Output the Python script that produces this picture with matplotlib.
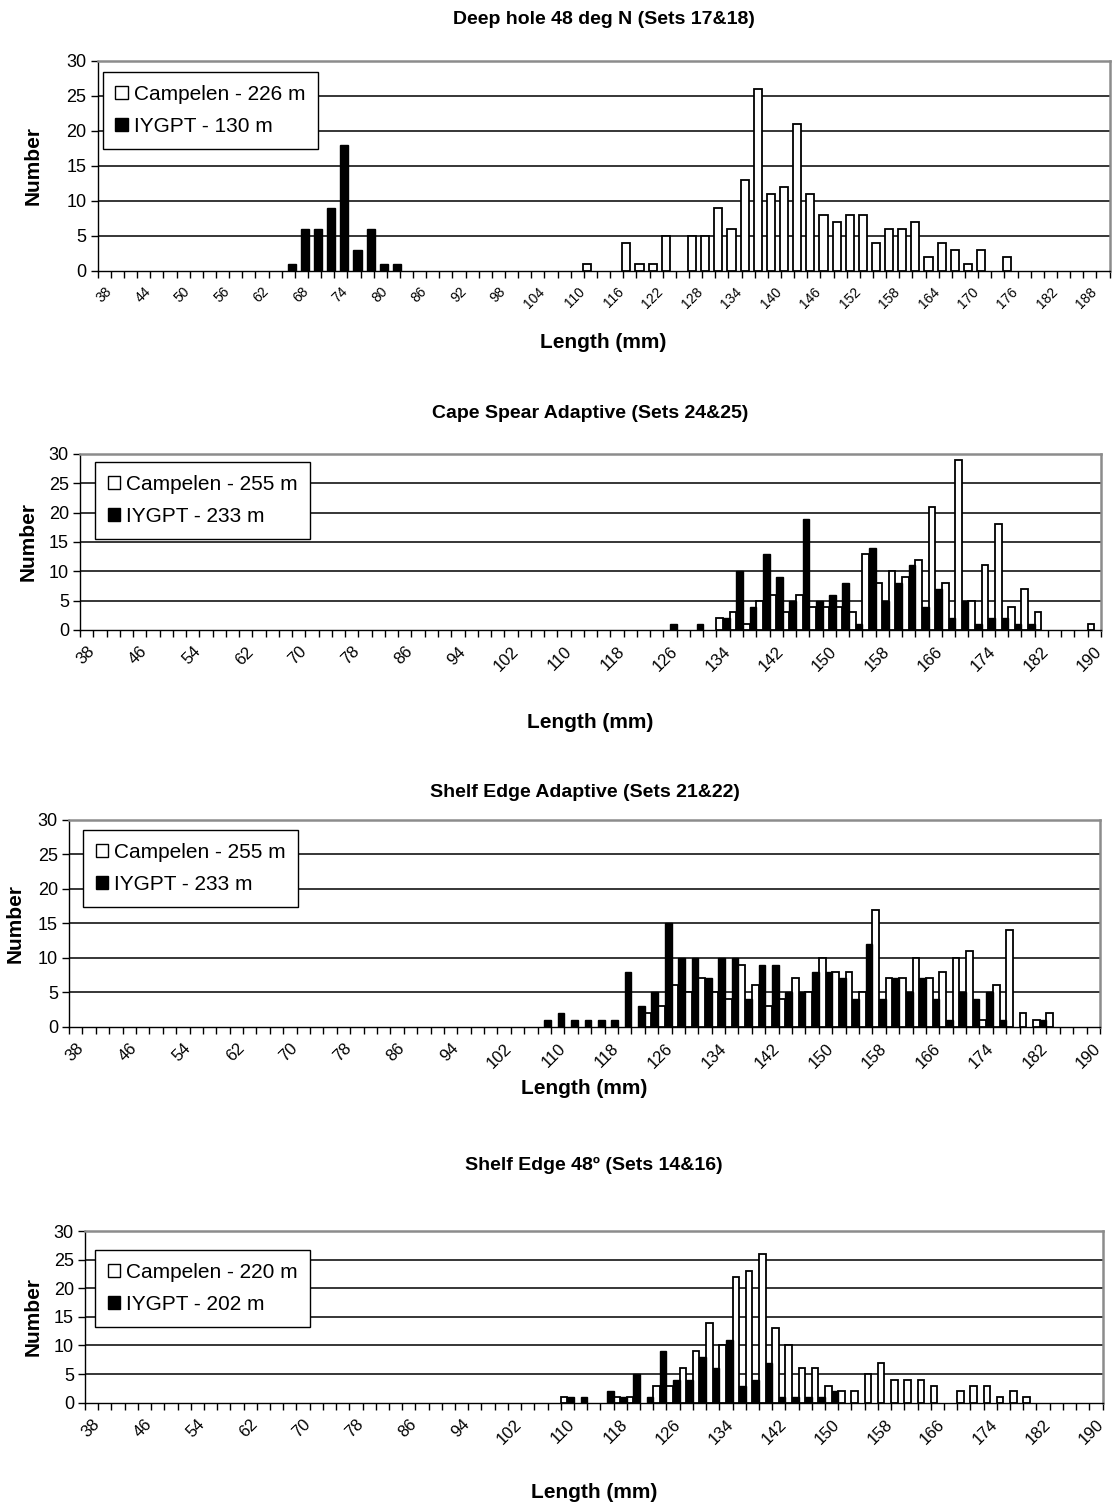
import numpy as np
import matplotlib
matplotlib.use("Agg")
import matplotlib.pyplot as plt
from matplotlib.patches import Patch

plt.rcParams['font.family'] = ['Liberation Sans', 'DejaVu Sans']

# Length classes (mm)
lengths = list(range(38, 191, 2))

# Panel 1: Deep hole 48 deg N
p1_white_start = 112
p1_white = [1, 0, 0, 4, 1, 1, 5, 0, 5, 5, 9, 6, 13, 26, 11, 12, 21, 11, 8, 7, 8, 8,
            4, 6, 6, 7, 2, 4, 3, 1, 3, 0, 2]
p1_black_start = 66
p1_black = [1, 6, 6, 9, 18, 3, 6, 1, 1]

# Panel 2: Cape Spear Adaptive
p2_white_start = 134
p2_white = [2, 3, 1, 5, 6, 3, 6, 4, 4, 4, 3, 13, 8, 10, 9, 12, 21, 8, 29, 5, 11, 18,
            4, 7, 3, 0, 0, 0, 1]
p2_black_start = 126
p2_black = [1, 0, 1, 0, 2, 10, 4, 13, 9, 5, 19, 5, 6, 8, 1, 14, 5, 8, 11, 4, 7, 2,
            5, 1, 2, 2, 1, 1]

# Panel 3: Shelf Edge Adaptive
p3_white_start = 124
p3_white = [2, 3, 6, 5, 7, 5, 4, 9, 6, 3, 4, 7, 5, 10, 8, 8, 5, 17, 7, 7, 10, 7, 8,
            10, 11, 1, 6, 14, 2, 1, 2]
p3_black_start = 108
p3_black = [1, 2, 1, 1, 1, 1, 8, 3, 5, 15, 10, 10, 7, 10, 10, 4, 9, 9, 5, 5, 8, 8,
            7, 4, 12, 4, 7, 5, 7, 4, 1, 5, 4, 5, 1, 0, 0, 1]

# Panel 4: Shelf Edge 48
p4_white_start = 110
p4_white = [1, 0, 0, 0, 1, 1, 0, 3, 3, 6, 9, 14, 10, 22, 23, 26, 13, 10, 6, 6, 3, 2,
            2, 5, 7, 4, 4, 4, 3, 0, 2, 3, 3, 1, 2, 1]
p4_black_start = 110
p4_black = [1, 1, 0, 2, 1, 5, 1, 9, 4, 4, 8, 6, 11, 3, 4, 7, 1, 1, 1, 1, 2]

titles = ["Deep hole 48 deg N (Sets 17&18)",
          "Cape Spear Adaptive (Sets 24&25)",
          "Shelf Edge Adaptive (Sets 21&22)",
          "Shelf Edge 48\u00ba (Sets 14&16)"]
legend_white = ["Campelen - 226 m", "Campelen - 255 m", "Campelen - 255 m", "Campelen - 220 m"]
legend_black = ["IYGPT - 130 m", "IYGPT - 233 m", "IYGPT - 233 m", "IYGPT - 202 m"]

W, H = 1112, 1509
fig = plt.figure(figsize=(W / 100, H / 100), dpi=100)

# plot boxes in pixels: left, right, top, bottom
boxes = [(97.7, 1109.5, 60.7, 270.7),
         (80.0, 1101.0, 454.0, 630.0),
         (69.0, 1100.0, 820.0, 1026.7),
         (85.0, 1102.5, 1231.0, 1402.7)]
title_y = [20, 413, 792, 1165]
xlabel_y = [343, 723, 1089, 1492]
ylabel_x = [33, 28, 15, 33]
legend_box = [(103, 72), (95, 462), (83, 830), (95, 1250)]
label_step = [3, 4, 4, 4]
bar_width = [0.62, 0.5, 0.5, 0.5]
bar_shift = [0.27, 0.25, 0.25, 0.25]

series = [(p1_white_start, p1_white, p1_black_start, p1_black),
          (p2_white_start, p2_white, p2_black_start, p2_black),
          (p3_white_start, p3_white, p3_black_start, p3_black),
          (p4_white_start, p4_white, p4_black_start, p4_black)]


def dense(start, vals):
    out = np.zeros(len(lengths))
    i0 = lengths.index(start)
    out[i0:i0 + len(vals)] = vals
    return out


idx = np.arange(len(lengths))
for p in range(4):
    l, r, t, b = boxes[p]
    ax = fig.add_axes([l / W, 1 - b / H, (r - l) / W, (b - t) / H])
    ws, wv, bs, bv = series[p]
    white = dense(ws, wv)
    black = dense(bs, bv)
    mw = white > 0
    mb = black > 0
    bw, sh = bar_width[p], bar_shift[p]
    ax.bar(idx[mw] - sh, white[mw], width=bw, color='white', edgecolor='black',
           linewidth=1.3, zorder=3)
    ax.bar(idx[mb] + sh, black[mb], width=bw, color='black', edgecolor='black',
           linewidth=1.0, zorder=3)

    ax.set_xlim(-0.5, len(lengths) - 0.5)
    ax.set_ylim(0, 30)
    ax.set_yticks(range(0, 31, 5))
    for yv in range(5, 30, 5):
        ax.axhline(yv, color='black', linewidth=1.1, zorder=1)

    step = label_step[p]
    ax.set_xticks(idx[::step])
    ax.set_xticklabels([str(v) for v in lengths[::step]], rotation=45, ha='right',
                       rotation_mode='anchor', fontsize=10 if p == 0 else 12)
    ax.set_xticks(np.arange(-0.5, len(lengths)), minor=True)
    ax.tick_params(axis='x', which='major', length=0, pad=10)
    ax.tick_params(axis='x', which='minor', length=5, width=1, direction='out')
    ax.tick_params(axis='y', length=5, width=1, direction='out', labelsize=13, pad=3)

    for side in ('left', 'bottom'):
        ax.spines[side].set_color('black')
        ax.spines[side].set_linewidth(1.0)
    for side in ('top', 'right'):
        ax.spines[side].set_color('#8c8c8c')
        ax.spines[side].set_linewidth(1.8)

    handles = [Patch(facecolor='white', edgecolor='black', linewidth=1.0),
               Patch(facecolor='black', edgecolor='black', linewidth=1.0)]
    lx, ly = legend_box[p]
    leg = ax.legend(handles, [legend_white[p], legend_black[p]], loc='upper left',
                    bbox_to_anchor=(lx / W, 1 - ly / H), bbox_transform=fig.transFigure,
                    fontsize=15, frameon=True, fancybox=False, framealpha=1,
                    edgecolor='black', handlelength=0.6, handleheight=0.6,
                    handletextpad=0.3, labelspacing=0.65, borderpad=0.6,
                    borderaxespad=0)
    leg.get_frame().set_linewidth(1.0)
    leg.set_zorder(5)

    fig.text((l + r) / 2 / W, 1 - title_y[p] / H, titles[p], ha='center', va='center',
             fontsize=14, fontweight='bold')
    fig.text((l + r) / 2 / W, 1 - xlabel_y[p] / H, "Length (mm)", ha='center',
             va='center', fontsize=15, fontweight='bold')
    fig.text(ylabel_x[p] / W, 1 - (t + b) / 2 / H, "Number", ha='center', va='center',
             rotation=90, fontsize=15, fontweight='bold')

fig.savefig("out.png", dpi=100)
